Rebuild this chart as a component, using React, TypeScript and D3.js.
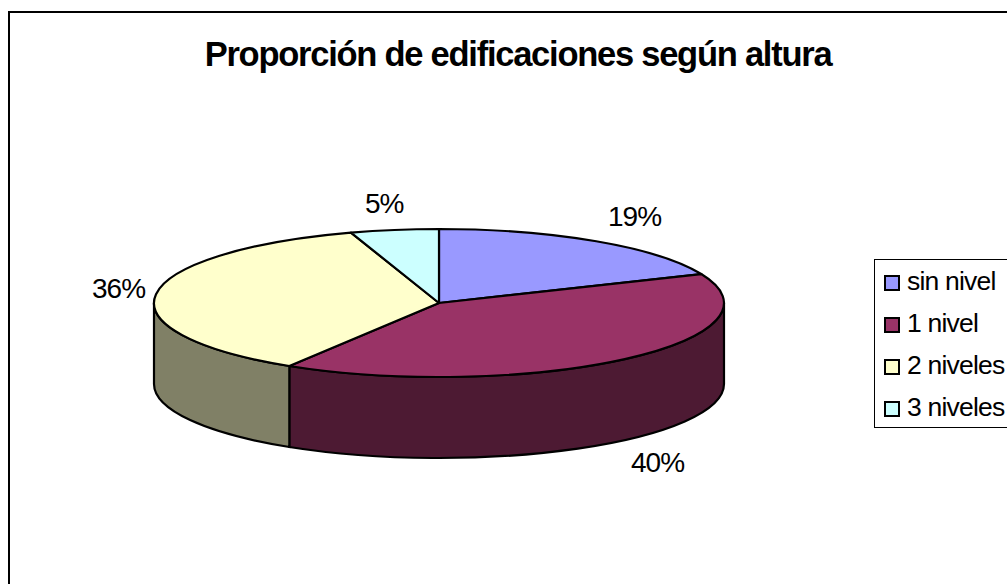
import React from "react";
import * as d3 from "d3";

const categories = ["sin nivel", "1 nivel", "2 niveles", "3 niveles"];
const values = [18.6, 40.2, 36.2, 5];
const topColors = ["#9999FF", "#993366", "#FFFFCC", "#CCFFFF"];
const sideColors = ["#4D1A33", "#4D1A33", "#808066", "#667F7F"];
const labels = ["19%", "40%", "36%", "5%"];
const labelX = [608, 631, 92, 365];
const labelY = [226, 472, 298, 213];
const title = "Proporción de edificaciones según altura";

const cx = 439, cy = 303, rx = 285, ry = 74, depth = 81;
const x = d3.scaleLinear().domain([-1, 1]).range([cx - rx, cx + rx]);
const y = d3.scaleLinear().domain([-1, 1]).range([cy - ry, cy + ry]);
const px = (a: number) => x(Math.sin(a));
const py = (a: number, d = 0) => y(-Math.cos(a)) + d;

const slices = d3.pie<number>().sort(null)(values);

function topPath(a0: number, a1: number) {
  const large = a1 - a0 > Math.PI ? 1 : 0;
  return `M${cx},${cy}L${px(a0)},${py(a0)}A${rx},${ry} 0 ${large} 1 ${px(a1)},${py(a1)}Z`;
}
function sidePath(a0: number, a1: number) {
  const s = Math.max(a0, Math.PI / 2), e = Math.min(a1, (3 * Math.PI) / 2);
  if (e <= s) return null;
  return `M${px(s)},${py(s)}A${rx},${ry} 0 0 1 ${px(e)},${py(e)}L${px(e)},${py(e, depth)}A${rx},${ry} 0 0 0 ${px(s)},${py(s, depth)}Z`;
}

const font = "'Liberation Sans', Arial, sans-serif";

export default function App() {
  return (
    <svg width={1007} height={584} style={{ position: "absolute", left: 0, top: 0, background: "#fff" }}>
      <rect x={9} y={12} width={1040} height={620} fill="#fff" stroke="#000" strokeWidth={2} />
      <text x={518} y={65.5} textAnchor="middle" fontFamily={font} fontWeight="bold" fontSize={34.5} letterSpacing={-1.25} fill="#000">{title}</text>
      {slices.map((s, i) => {
        const d = sidePath(s.startAngle, s.endAngle);
        return d ? <path key={i} d={d} fill={sideColors[i]} stroke="#000" strokeWidth={2.2} /> : null;
      })}
      {slices.map((s, i) => (
        <path key={i} d={topPath(s.startAngle, s.endAngle)} fill={topColors[i]} stroke="#000" strokeWidth={2.2} strokeLinejoin="round" />
      ))}
      {labels.map((t, i) => (
        <text key={i} x={labelX[i]} y={labelY[i]} fontFamily={font} fontSize={28} letterSpacing={-1} fill="#000">{t}</text>
      ))}
      <rect x={874.5} y={259.5} width={150} height={168} fill="#fff" stroke="#000" strokeWidth={1} />
      {categories.map((c, i) => (
        <g key={c}>
          <rect x={885} y={276} width={14} height={14} transform={`translate(0,${i * 42})`} fill={topColors[i]} stroke="#000" strokeWidth={2} />
          <text x={907} y={290 + i * 42} fontFamily={font} fontSize={26.5} letterSpacing={-0.8} fill="#000">{c}</text>
        </g>
      ))}
    </svg>
  );
}
